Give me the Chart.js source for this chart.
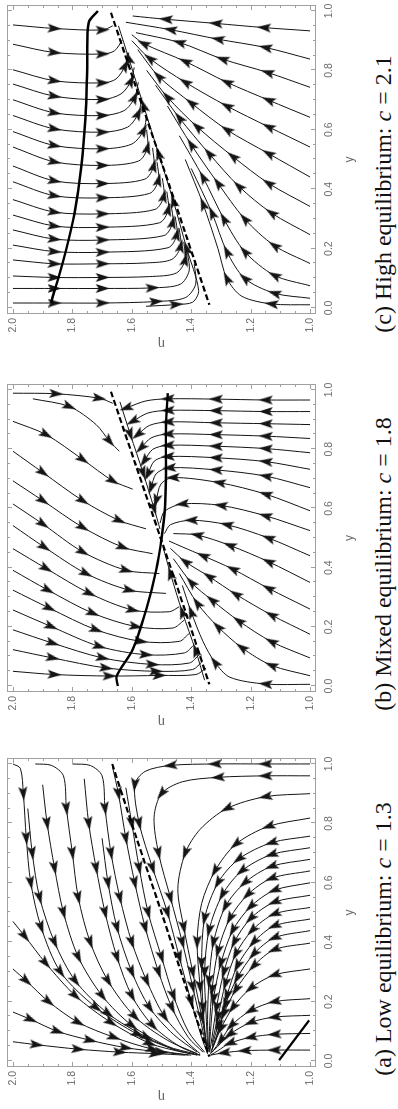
<!DOCTYPE html>
<html>
<head>
<meta charset="utf-8">
<script src="https://cdn.jsdelivr.net/npm/chart.js@4.4.0/dist/chart.umd.min.js"></script>
<style>
html, body { margin: 0; padding: 0; background: #fff; overflow: hidden; }
/* the figure is laid out landscape, then turned a quarter turn */
#fig { position: absolute; left: 0; top: 0; width: 1109px; height: 398px;
       transform-origin: 0 0; transform: translateY(1109px) rotate(-90deg); background: #fff; }
#fig canvas { position: absolute; top: 0; }
.cap { position: absolute; top: 370px; height: 28px; line-height: 27px; text-align: center;
       font-family: 'Liberation Serif', 'DejaVu Serif', serif; font-size: 24px; white-space: nowrap; color: #111; }
</style>
</head>
<body>
<div id="fig">
  <canvas id="panelA" width="354" height="370" style="left:2px"></canvas>
  <canvas id="panelB" width="354" height="370" style="left:377px"></canvas>
  <canvas id="panelC" width="354" height="370" style="left:755px"></canvas>
  <div class="cap" id="capA" style="left:4px;width:332px"></div>
  <div class="cap" id="capB" style="left:379px;width:332px"></div>
  <div class="cap" id="capC" style="left:749px;width:332px"></div>
</div>
<script>
// tick labels
const Y_TICKS = ['0.0', '0.2', '0.4', '0.6', '0.8', '1.0'];
const ETA_TICKS = ['1.0', '1.2', '1.4', '1.6', '1.8', '2.0'];
const CAPTIONS = [
    ['(a) Low equilibrium: ', 'c', ' = 1.3'],
    ['(b) Mixed equilibrium: ', 'c', ' = 1.8'],
    ['(c) High equilibrium: ', 'c', ' = 2.1']
];

// streamlines are [y, eta, arrow], in flow order
const A_SOLID = [[0.003, 1.104], [0.137, 1.003]];
const A_DASHED = [[1.0, 1.666], [0.75, 1.584], [0.5, 1.50], [0.25, 1.418], [0.015, 1.339]];
const A_STREAMS = [
    [[1.0, 2.0], [0.985, 1.975], [0.90, 1.965, 1], [0.75, 1.955, 1], [0.60, 1.94, 1], [0.45, 1.905, 1], [0.30, 1.84, 1], [0.18, 1.72, 1], [0.09, 1.58, 1], [0.04, 1.46], [0.02, 1.38]],
    [[1.0, 1.925], [0.995, 1.87], [0.96, 1.83], [0.85, 1.82, 1], [0.70, 1.80, 1], [0.55, 1.78, 1], [0.40, 1.74, 1], [0.27, 1.68, 1], [0.15, 1.59, 1], [0.07, 1.48], [0.025, 1.38]],
    [[1.0, 1.80], [0.995, 1.74], [0.96, 1.70], [0.85, 1.69, 1], [0.70, 1.67, 1], [0.55, 1.64, 1], [0.40, 1.60, 1], [0.27, 1.55, 1], [0.15, 1.49, 1], [0.06, 1.41], [0.025, 1.37]],
    [[0.99, 1.665], [0.90, 1.645, 1], [0.75, 1.62, 1], [0.60, 1.59, 1], [0.45, 1.555, 1], [0.30, 1.51, 1], [0.18, 1.465, 1], [0.08, 1.41], [0.03, 1.36]],
    [[0.93, 1.90], [0.80, 1.885, 1], [0.65, 1.86, 1], [0.50, 1.83, 1], [0.35, 1.78, 1], [0.22, 1.70, 1], [0.12, 1.60, 1], [0.05, 1.48], [0.025, 1.39]],
    [[0.95, 1.76], [0.80, 1.745, 1], [0.65, 1.72, 1], [0.50, 1.69, 1], [0.35, 1.65, 1], [0.22, 1.60, 1], [0.12, 1.53, 1], [0.05, 1.44], [0.02, 1.37]],
    [[0.92, 1.62], [0.80, 1.60, 1], [0.65, 1.575, 1], [0.50, 1.545, 1], [0.35, 1.50, 1], [0.22, 1.46, 1], [0.10, 1.41], [0.03, 1.355]],
    [[0.85, 1.95], [0.70, 1.935, 1], [0.55, 1.91, 1], [0.40, 1.86, 1], [0.27, 1.79, 1], [0.16, 1.68, 1], [0.08, 1.55, 1], [0.035, 1.45]],
    [[0.75, 1.70], [0.60, 1.68, 1], [0.45, 1.65, 1], [0.30, 1.60, 1], [0.18, 1.54, 1], [0.09, 1.46], [0.03, 1.38]],
    [[0.47, 2.0], [0.42, 1.96, 1], [0.33, 1.89, 1], [0.22, 1.79, 1], [0.13, 1.67, 1], [0.06, 1.54, 1], [0.03, 1.43], [0.02, 1.37]],
    [[0.31, 2.0], [0.27, 1.955, 1], [0.20, 1.88, 1], [0.13, 1.78, 1], [0.08, 1.66, 1], [0.04, 1.53, 1], [0.02, 1.41]],
    [[0.165, 2.0], [0.14, 1.94, 1], [0.10, 1.85, 1], [0.07, 1.74, 1], [0.045, 1.62, 1], [0.03, 1.50, 1], [0.02, 1.40]],
    [[0.065, 2.0], [0.055, 1.92, 1], [0.04, 1.78, 1], [0.03, 1.64, 1], [0.025, 1.52, 1], [0.02, 1.42]],
    [[1.0, 1.0], [1.0, 1.15, 1], [1.0, 1.32, 1], [0.995, 1.47, 1], [0.975, 1.555], [0.93, 1.59, 1], [0.80, 1.575, 1], [0.65, 1.53, 1], [0.50, 1.48, 1], [0.35, 1.44, 1], [0.20, 1.40, 1], [0.08, 1.365], [0.025, 1.345]],
    [[0.96, 1.0], [0.96, 1.15, 1], [0.955, 1.31, 1], [0.94, 1.43], [0.90, 1.50, 1], [0.82, 1.525], [0.70, 1.51, 1], [0.55, 1.47, 1], [0.40, 1.43, 1], [0.25, 1.395, 1], [0.12, 1.365], [0.03, 1.345]],
    [[0.90, 1.0], [0.89, 1.15, 1], [0.85, 1.28, 1], [0.78, 1.37], [0.70, 1.42, 1], [0.58, 1.445], [0.45, 1.425, 1], [0.30, 1.395, 1], [0.15, 1.365, 1], [0.04, 1.345]],
    [[0.818, 1.0], [0.79, 1.14, 1], [0.73, 1.25, 1], [0.64, 1.32, 1], [0.53, 1.365], [0.40, 1.38, 1], [0.25, 1.37, 1], [0.10, 1.355], [0.03, 1.345]],
    [[0.757, 1.0], [0.735, 1.13, 1], [0.68, 1.24, 1], [0.60, 1.31, 1], [0.48, 1.355, 1], [0.33, 1.365, 1], [0.18, 1.36, 1], [0.06, 1.35], [0.025, 1.345]],
    [[0.718, 1.0], [0.695, 1.13, 1], [0.64, 1.23, 1], [0.56, 1.295, 1], [0.44, 1.34, 1], [0.30, 1.355, 1], [0.16, 1.35], [0.05, 1.345]],
    [[0.679, 1.0], [0.655, 1.13, 1], [0.60, 1.22, 1], [0.52, 1.285, 1], [0.40, 1.325, 1], [0.27, 1.34, 1], [0.14, 1.345], [0.04, 1.342]],
    [[0.64, 1.0], [0.615, 1.13, 1], [0.56, 1.21, 1], [0.48, 1.27, 1], [0.37, 1.31, 1], [0.24, 1.33, 1], [0.12, 1.338], [0.035, 1.34]],
    [[0.60, 1.0], [0.575, 1.12, 1], [0.52, 1.20, 1], [0.44, 1.26, 1], [0.33, 1.30, 1], [0.21, 1.325, 1], [0.10, 1.335], [0.03, 1.34]],
    [[0.558, 1.0], [0.535, 1.12, 1], [0.48, 1.20, 1], [0.40, 1.255, 1], [0.30, 1.29, 1], [0.18, 1.315, 1], [0.08, 1.33], [0.03, 1.338]],
    [[0.517, 1.0], [0.495, 1.12, 1], [0.44, 1.195, 1], [0.36, 1.25, 1], [0.26, 1.285, 1], [0.15, 1.31, 1], [0.06, 1.33]],
    [[0.478, 1.0], [0.455, 1.12, 1], [0.40, 1.19, 1], [0.32, 1.245, 1], [0.22, 1.28, 1], [0.12, 1.31, 1], [0.05, 1.33]],
    [[0.439, 1.0], [0.415, 1.12, 1], [0.36, 1.19, 1], [0.28, 1.245, 1], [0.19, 1.285, 1], [0.10, 1.31], [0.04, 1.33]],
    [[0.397, 1.0], [0.375, 1.12, 1], [0.32, 1.19, 1], [0.24, 1.25, 1], [0.16, 1.29, 1], [0.08, 1.315], [0.035, 1.332]],
    [[0.31, 1.0], [0.29, 1.12, 1], [0.245, 1.20, 1], [0.18, 1.26, 1], [0.11, 1.30, 1], [0.05, 1.325], [0.025, 1.335]],
    [[0.21, 1.0], [0.20, 1.12, 1], [0.17, 1.20, 1], [0.12, 1.265, 1], [0.07, 1.30, 1], [0.03, 1.33]],
    [[0.154, 1.0], [0.148, 1.12, 1], [0.13, 1.20, 1], [0.09, 1.27, 1], [0.05, 1.31], [0.025, 1.335]],
    [[0.093, 1.0], [0.09, 1.12, 1], [0.08, 1.20, 1], [0.06, 1.27, 1], [0.035, 1.31], [0.02, 1.335]],
    [[0.037, 1.0], [0.037, 1.12, 1], [0.035, 1.22, 1], [0.028, 1.29, 1], [0.02, 1.335]]
];

const B_SOLID = [[0.0, 1.647], [0.034, 1.651], [0.123, 1.597], [0.257, 1.552], [0.391, 1.518], [0.503, 1.499], [0.603, 1.488], [0.715, 1.485], [0.883, 1.485], [0.989, 1.479]];
const B_DASHED = [[0.994, 1.670], [0.75, 1.588], [0.5, 1.503], [0.25, 1.419], [0.006, 1.339]];
const B_STREAMS = [
    [[0.989, 2.0], [0.987, 1.854, 1], [0.972, 1.709, 1], [0.955, 1.664]],
    [[0.970, 1.933], [0.944, 1.810, 1], [0.883, 1.720], [0.827, 1.675, 1], [0.793, 1.642]],
    [[0.894, 2.0], [0.849, 1.888, 1], [0.765, 1.765, 1], [0.693, 1.664, 1], [0.665, 1.597]],
    [[0.793, 2.0], [0.721, 1.899, 1], [0.626, 1.765, 1], [0.559, 1.642, 1], [0.531, 1.552]],
    [[0.693, 2.0], [0.626, 1.899, 1], [0.536, 1.765, 1], [0.469, 1.630, 1], [0.447, 1.530]],
    [[0.615, 2.0], [0.547, 1.899, 1], [0.453, 1.765, 1], [0.391, 1.619, 1], [0.380, 1.507]],
    [[0.542, 2.0], [0.469, 1.894, 1], [0.380, 1.754, 1], [0.324, 1.608, 1], [0.313, 1.485]],
    [[0.464, 2.0], [0.397, 1.888, 1], [0.313, 1.742, 1], [0.257, 1.597, 1], [0.251, 1.474], [0.268, 1.440]],
    [[0.391, 2.0], [0.324, 1.882, 1], [0.246, 1.731, 1], [0.201, 1.586, 1], [0.196, 1.462], [0.223, 1.423]],
    [[0.324, 2.0], [0.263, 1.877, 1], [0.190, 1.720, 1], [0.151, 1.569, 1], [0.151, 1.440], [0.179, 1.406]],
    [[0.257, 2.0], [0.201, 1.871, 1], [0.134, 1.709, 1], [0.106, 1.552, 1], [0.112, 1.423], [0.140, 1.390]],
    [[0.190, 2.0], [0.145, 1.866, 1], [0.095, 1.698, 1], [0.073, 1.530, 1], [0.078, 1.406], [0.106, 1.373]],
    [[0.123, 2.0], [0.095, 1.866, 1], [0.061, 1.686, 1], [0.050, 1.518, 1], [0.056, 1.395], [0.084, 1.362]],
    [[0.050, 2.0], [0.039, 1.860, 1], [0.034, 1.675, 1], [0.036, 1.507, 1], [0.039, 1.384], [0.061, 1.350]],
    [[0.96, 1.64], [0.85, 1.605, 1], [0.72, 1.562, 1], [0.60, 1.525, 1], [0.53, 1.505]],
    [[0.02, 1.355], [0.12, 1.385, 1], [0.25, 1.43, 1], [0.38, 1.47, 1], [0.47, 1.495]],
    [[0.966, 1.0], [0.966, 1.149, 1], [0.969, 1.317, 1], [0.970, 1.479, 1], [0.963, 1.552], [0.939, 1.619, 1]],
    [[0.927, 1.0], [0.927, 1.149, 1], [0.930, 1.317, 1], [0.931, 1.479, 1], [0.922, 1.546], [0.894, 1.597, 1]],
    [[0.883, 1.0], [0.886, 1.149, 1], [0.889, 1.317, 1], [0.892, 1.479, 1], [0.880, 1.541], [0.849, 1.580, 1]],
    [[0.836, 1.0], [0.844, 1.149, 1], [0.849, 1.317, 1], [0.851, 1.479, 1], [0.838, 1.535], [0.804, 1.569, 1]],
    [[0.788, 1.0], [0.802, 1.149, 1], [0.810, 1.317, 1], [0.813, 1.479, 1], [0.799, 1.530], [0.760, 1.558, 1]],
    [[0.732, 1.0], [0.758, 1.149, 1], [0.771, 1.317, 1], [0.775, 1.479, 1], [0.760, 1.524], [0.715, 1.546, 1]],
    [[0.670, 1.0], [0.709, 1.149, 1], [0.730, 1.317, 1], [0.737, 1.474, 1], [0.717, 1.518], [0.670, 1.535, 1]],
    [[0.592, 1.0], [0.648, 1.149, 1], [0.687, 1.306, 1], [0.704, 1.462, 1], [0.682, 1.502], [0.626, 1.518, 1]],
    [[0.525, 1.0], [0.575, 1.15, 1], [0.61, 1.30, 1], [0.615, 1.43, 1], [0.59, 1.49], [0.55, 1.505]],
    [[0.44, 1.0], [0.50, 1.14, 1], [0.545, 1.28, 1], [0.56, 1.40, 1], [0.545, 1.47], [0.515, 1.49]],
    [[0.35, 1.0], [0.42, 1.14, 1], [0.475, 1.27, 1], [0.51, 1.38, 1], [0.515, 1.46]],
    [[0.26, 1.0], [0.33, 1.14, 1], [0.395, 1.26, 1], [0.44, 1.36, 1], [0.47, 1.43], [0.49, 1.475]],
    [[0.175, 1.0], [0.24, 1.13, 1], [0.31, 1.25, 1], [0.37, 1.34, 1], [0.42, 1.42, 1], [0.465, 1.47]],
    [[0.095, 1.0], [0.15, 1.13, 1], [0.22, 1.24, 1], [0.29, 1.33, 1], [0.35, 1.40, 1], [0.43, 1.46]],
    [[0.035, 1.0], [0.07, 1.13, 1], [0.13, 1.23, 1], [0.20, 1.31, 1], [0.28, 1.38, 1], [0.38, 1.44]],
    [[0.006, 1.0], [0.007, 1.15, 1], [0.03, 1.27], [0.08, 1.32, 1], [0.15, 1.36], [0.25, 1.40, 1], [0.34, 1.43]]
];

const C_SOLID = [[1.0, 1.714], [0.961, 1.745], [0.81, 1.750], [0.642, 1.756], [0.475, 1.770], [0.318, 1.793], [0.196, 1.821], [0.095, 1.849], [0.039, 1.866], [0.017, 1.871]];
const C_DASHED = [[0.994, 1.670], [0.75, 1.588], [0.5, 1.503], [0.25, 1.419], [0.011, 1.339]];
const C_STREAMS = [
    [[0.953, 2.0], [0.941, 1.86, 1], [0.936, 1.698, 1], [0.95, 1.664]],
    [[0.888, 2.0], [0.86, 1.86, 1], [0.855, 1.698, 1], [0.866, 1.658], [0.902, 1.632]],
    [[0.802, 2.0], [0.765, 1.86, 1], [0.758, 1.698, 1], [0.771, 1.653], [0.816, 1.622, 1], [0.86, 1.61]],
    [[0.754, 2.0], [0.713, 1.86, 1], [0.702, 1.698, 1], [0.721, 1.636], [0.765, 1.602, 1], [0.81, 1.592]],
    [[0.701, 2.0], [0.657, 1.86, 1], [0.648, 1.698, 1], [0.665, 1.625], [0.709, 1.59, 1], [0.76, 1.578]],
    [[0.648, 2.0], [0.603, 1.86, 1], [0.592, 1.698, 1], [0.609, 1.614], [0.655, 1.578, 1], [0.708, 1.566]],
    [[0.594, 2.0], [0.547, 1.86, 1], [0.536, 1.698, 1], [0.552, 1.60], [0.598, 1.56, 1], [0.652, 1.55]],
    [[0.542, 2.0], [0.492, 1.86, 1], [0.48, 1.698, 1], [0.495, 1.577], [0.54, 1.547, 1], [0.60, 1.55]],
    [[0.478, 2.0], [0.428, 1.86, 1], [0.419, 1.698, 1], [0.434, 1.556], [0.479, 1.526, 1], [0.539, 1.53]],
    [[0.425, 2.0], [0.378, 1.86, 1], [0.371, 1.698, 1], [0.386, 1.54], [0.431, 1.51, 1], [0.491, 1.515]],
    [[0.365, 2.0], [0.323, 1.86, 1], [0.317, 1.698, 1], [0.332, 1.522], [0.377, 1.492, 1], [0.437, 1.497]],
    [[0.313, 2.0], [0.276, 1.86, 1], [0.272, 1.698, 1], [0.287, 1.507], [0.332, 1.477, 1], [0.392, 1.482]],
    [[0.263, 2.0], [0.232, 1.86, 1], [0.229, 1.698, 1], [0.244, 1.492], [0.289, 1.462, 1], [0.349, 1.468]],
    [[0.212, 2.0], [0.19, 1.86, 1], [0.188, 1.698, 1], [0.203, 1.478], [0.248, 1.448, 1], [0.308, 1.454]],
    [[0.162, 2.0], [0.149, 1.86, 1], [0.149, 1.698, 1], [0.152, 1.55], [0.164, 1.465], [0.209, 1.435, 1], [0.269, 1.441]],
    [[0.108, 2.0], [0.103, 1.86, 1], [0.103, 1.698, 1], [0.106, 1.54], [0.118, 1.45], [0.163, 1.42, 1], [0.223, 1.425]],
    [[0.066, 2.0], [0.066, 1.86, 1], [0.066, 1.698, 1], [0.068, 1.53, 1], [0.08, 1.437], [0.125, 1.407], [0.185, 1.412]],
    [[0.017, 2.0], [0.017, 1.86, 1], [0.017, 1.698, 1], [0.022, 1.518, 1], [0.035, 1.42], [0.08, 1.385], [0.15, 1.39]],
    [[0.006, 1.552], [0.012, 1.45, 1], [0.02, 1.395], [0.06, 1.375], [0.2, 1.415, 1], [0.36, 1.46, 1], [0.52, 1.51, 1], [0.68, 1.56, 1], [0.84, 1.61, 1], [0.95, 1.645]],
    [[0.933, 1.0], [0.944, 1.155, 1], [0.958, 1.317, 1], [0.972, 1.485, 1], [0.983, 1.597]],
    [[0.838, 1.0], [0.877, 1.15, 1], [0.905, 1.31, 1], [0.937, 1.47, 1], [0.962, 1.62]],
    [[0.743, 1.0], [0.793, 1.143, 1], [0.838, 1.295, 1], [0.894, 1.44, 1], [0.927, 1.586]],
    [[0.642, 1.0], [0.70, 1.14, 1], [0.76, 1.28, 1], [0.83, 1.42, 1], [0.89, 1.56, 1], [0.92, 1.60]],
    [[0.542, 1.0], [0.61, 1.14, 1], [0.68, 1.28, 1], [0.76, 1.42, 1], [0.84, 1.54, 1], [0.90, 1.60]],
    [[0.441, 1.0], [0.52, 1.14, 1], [0.60, 1.28, 1], [0.69, 1.40, 1], [0.78, 1.51, 1], [0.87, 1.58]],
    [[0.342, 1.0], [0.42, 1.14, 1], [0.51, 1.26, 1], [0.61, 1.38, 1], [0.71, 1.48, 1], [0.80, 1.55]],
    [[0.247, 1.0], [0.32, 1.13, 1], [0.41, 1.24, 1], [0.52, 1.34, 1], [0.64, 1.44, 1], [0.75, 1.52]],
    [[0.150, 1.0], [0.21, 1.12, 1], [0.30, 1.22, 1], [0.42, 1.31, 1], [0.55, 1.40, 1], [0.68, 1.48]],
    [[0.075, 1.0], [0.11, 1.12, 1], [0.19, 1.22, 1], [0.30, 1.29, 1], [0.44, 1.36, 1], [0.58, 1.44]],
    [[0.033, 1.0], [0.05, 1.12, 1], [0.10, 1.22, 1], [0.19, 1.28, 1], [0.32, 1.33, 1], [0.47, 1.40]],
    [[0.011, 1.0], [0.014, 1.13, 1], [0.04, 1.23], [0.10, 1.28, 1], [0.20, 1.31], [0.35, 1.36, 1], [0.50, 1.42]]
];

const INK = '#141414';
const LABEL_GREY = '#6a6a6a';
const FRAME_GREY = '#a0a0a0';
const SANS = "'Liberation Sans', Arial, sans-serif";

// arrowhead sprite, tip pointing up, turned per point
const arrowImg = document.createElement('canvas');
arrowImg.width = 9;
arrowImg.height = 14;
(function() {
    const g = arrowImg.getContext('2d');
    g.fillStyle = INK;
    g.beginPath();
    g.moveTo(4.5, 0);
    g.lineTo(9, 14);
    g.lineTo(4.5, 11);
    g.lineTo(0, 14);
    g.closePath();
    g.fill();
})();

// direction of travel at a point, measured in pixels
function arrowAngle(ctx) {
    if (ctx.dataIndex === undefined) return 0;
    const pts = ctx.dataset.data;
    const i = ctx.dataIndex;
    const a = pts[Math.max(i - 1, 0)];
    const b = pts[Math.min(i + 1, pts.length - 1)];
    const xs = ctx.chart.scales.x;
    const ys = ctx.chart.scales.y;
    const dx = xs.getPixelForValue(b.x) - xs.getPixelForValue(a.x);
    const dy = ys.getPixelForValue(b.y) - ys.getPixelForValue(a.y);
    return Math.atan2(dy, dx) * 180 / Math.PI + 90;
}

function streamSet(pts) {
    return {
        data: pts.map(p => ({ x: p[0], y: p[1], arrow: p[2] === 1 })),
        showLine: true,
        borderColor: INK,
        borderWidth: 1,
        tension: 0.3,
        pointRadius: c => (c.raw && c.raw.arrow) ? 5 : 0,
        pointHoverRadius: 0,
        pointStyle: arrowImg,
        pointRotation: arrowAngle
    };
}

function curveSet(pts, width, dash) {
    return {
        data: pts.map(p => ({ x: p[0], y: p[1] })),
        showLine: true,
        borderColor: '#000',
        borderWidth: width,
        borderDash: dash,
        tension: 0.3,
        pointRadius: 0,
        pointHoverRadius: 0
    };
}

// frame with small inward ticks on all four sides
const framePlugin = {
    id: 'frame',
    beforeDatasetsDraw(chart) {
        const { ctx, chartArea: a, scales: { x, y } } = chart;
        ctx.save();
        ctx.strokeStyle = FRAME_GREY;
        ctx.lineWidth = 1;
        ctx.strokeRect(a.left + 0.5, a.top + 0.5, a.right - a.left - 1, a.bottom - a.top - 1);
        ctx.beginPath();
        for (let k = 0; k <= 20; k++) {
            const len = k % 4 === 0 ? 5 : 3;
            const px = Math.round(x.getPixelForValue(k * 0.05)) + 0.5;
            ctx.moveTo(px, a.bottom); ctx.lineTo(px, a.bottom - len);
            ctx.moveTo(px, a.top); ctx.lineTo(px, a.top + len);
            const py = Math.round(y.getPixelForValue(1 + k * 0.05)) + 0.5;
            ctx.moveTo(a.left, py); ctx.lineTo(a.left + len, py);
            ctx.moveTo(a.right, py); ctx.lineTo(a.right - len, py);
        }
        ctx.stroke();
        ctx.restore();
    }
};

function buildPanel(id, streams, solid, dashed) {
    const datasets = [curveSet(solid, 2.4, []), curveSet(dashed, 2.2, [6, 3])];
    streams.forEach(s => datasets.push(streamSet(s)));

    new Chart(document.getElementById(id), {
        type: 'scatter',
        data: { datasets: datasets },
        options: {
            responsive: false,
            animation: false,
            layout: { padding: { top: 7, right: 5, left: 0, bottom: 0 } },
            plugins: { legend: { display: false }, tooltip: { enabled: false } },
            scales: {
                x: {
                    type: 'linear', min: -0.02, max: 1.02,
                    afterBuildTicks: s => { s.ticks = Y_TICKS.map(t => ({ value: parseFloat(t) })); },
                    afterFit: s => { s.height = 54; s.paddingLeft = 0; s.paddingRight = 0; },
                    grid: { display: false, drawTicks: false },
                    border: { display: false },
                    ticks: {
                        autoSkip: false, maxRotation: 0, padding: 7, color: LABEL_GREY,
                        font: { family: SANS, size: 10.5 },
                        callback: (v, i) => Y_TICKS[i]
                    },
                    title: { display: true, text: 'y', color: LABEL_GREY, font: { family: SANS, size: 12 }, padding: { top: 0, bottom: 13 } }
                },
                y: {
                    type: 'linear', min: 0.98, max: 2.02,
                    afterBuildTicks: s => { s.ticks = ETA_TICKS.map(t => ({ value: parseFloat(t) })); },
                    afterFit: s => { s.width = 40; s.paddingTop = 0; s.paddingBottom = 0; },
                    grid: { display: false, drawTicks: false },
                    border: { display: false },
                    ticks: {
                        autoSkip: false, padding: 4, color: LABEL_GREY,
                        font: { family: SANS, size: 10.5 },
                        callback: (v, i) => ETA_TICKS[i]
                    },
                    title: { display: true, text: 'η', color: LABEL_GREY, font: { family: SANS, size: 12 }, padding: { top: 3, bottom: 0 } }
                }
            }
        },
        plugins: [framePlugin]
    });
}

function setCaption(id, parts) {
    const el = document.getElementById(id);
    el.appendChild(document.createTextNode(parts[0]));
    const it = document.createElement('i');
    it.textContent = parts[1];
    el.appendChild(it);
    el.appendChild(document.createTextNode(parts[2]));
}

buildPanel('panelA', A_STREAMS, A_SOLID, A_DASHED);
buildPanel('panelB', B_STREAMS, B_SOLID, B_DASHED);
buildPanel('panelC', C_STREAMS, C_SOLID, C_DASHED);
setCaption('capA', CAPTIONS[0]);
setCaption('capB', CAPTIONS[1]);
setCaption('capC', CAPTIONS[2]);
</script>
</body>
</html>
